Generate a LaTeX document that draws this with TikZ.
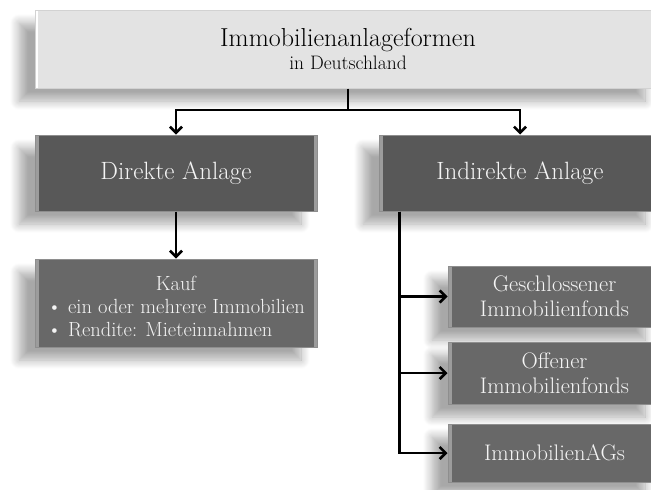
\documentclass[tikz,border=0pt]{standalone}
\usepackage{fontspec}
\usetikzlibrary{arrows.meta,shadows.blur}

\definecolor{paneLight}{HTML}{E3E3E3}
\definecolor{paneLightEdge}{HTML}{D2D2D2}
\definecolor{paneDark}{HTML}{585858}
\definecolor{paneMid}{HTML}{686868}
\definecolor{edgeDark}{HTML}{8E8E8E}
\definecolor{edgeHi}{HTML}{9C9C9C}
\definecolor{paneText}{HTML}{F4F4F4}

\tikzset{
  panel/.style={rectangle, inner sep=0pt, align=center,
    blur shadow={shadow xshift=-16pt, shadow yshift=-13pt,
                 shadow blur radius=9pt, shadow blur steps=12,
                 shadow opacity=34}},
  lightpanel/.style={panel, fill=paneLight, draw=paneLightEdge, line width=1pt,
    text=black,
    path picture={
      \fill[white] (path picture bounding box.north west)
        rectangle ([xshift=3pt]path picture bounding box.south west);}},
  bevelpanel/.style={panel, draw=edgeDark, line width=1pt, text=paneText,
    path picture={
      \fill[edgeHi] (path picture bounding box.north west)
        rectangle ([xshift=3.5pt]path picture bounding box.south west);
      \fill[edgeHi] (path picture bounding box.north east)
        rectangle ([xshift=-3pt]path picture bounding box.south east);}},
  darkpanel/.style={bevelpanel, fill=paneDark},
  midpanel/.style={bevelpanel, fill=paneMid},
  link/.style={line width=2.6pt, draw=black},
  arrowlink/.style={link, -{Straight Barb[length=6pt,width=12pt]}},
}

\begin{document}
\begin{tikzpicture}[x=1pt,y=-1pt]
\useasboundingbox (0,0) rectangle (651,490);
% the panels run off the right edge of the page
\clip (0,0) rectangle (651,490);

% heading panel
\node[lightpanel, minimum width=626pt, minimum height=78pt,
      font=\fontsize{26}{23}\selectfont] (top) at (348,49)
  {Immobilienanlageformen\\
   {\fontsize{19.5}{23}\selectfont in Deutschland}};

% the two kinds of investment
\node[darkpanel, minimum width=282pt, minimum height=76pt,
      font=\fontsize{25}{28}\selectfont] (dir) at (176,173) {Direkte Anlage};
\node[darkpanel, minimum width=282pt, minimum height=76pt,
      font=\fontsize{25}{28}\selectfont] (ind) at (520,173) {Indirekte Anlage};

% direct investment
\node[midpanel, minimum width=282pt, minimum height=88pt,
      font=\fontsize{20.5}{23}\selectfont] (kauf) at (176,303)
  {\raisebox{-6pt}[\height][\depth]{\begin{tabular}{@{}l@{}}
     \multicolumn{1}{@{}c@{}}{Kauf}\\
     \textbullet\ ein oder mehrere Immobilien\\
     \textbullet\ Rendite: Mieteinnahmen
   \end{tabular}}};

% indirect investment vehicles
\node[midpanel, minimum width=213pt, minimum height=61pt,
      font=\fontsize{22.5}{25}\selectfont] (fund1) at (554.5,296.5)
  {Geschlossener\\Immobilienfonds};
\node[midpanel, minimum width=213pt, minimum height=62pt,
      font=\fontsize{22.5}{25}\selectfont] (fund2) at (554.5,373)
  {Offener\\Immobilienfonds};
\node[midpanel, minimum width=213pt, minimum height=58pt,
      font=\fontsize{22.5}{25}\selectfont] (fund3) at (554.5,453)
  {ImmobilienAGs};

% connectors
\coordinate (fork) at (348,110);
\draw[link] (top.south) -- (fork);
\draw[arrowlink] (fork) -| (dir.north);
\draw[arrowlink] (fork) -| (ind.north);
\draw[arrowlink] (dir.south) -- (kauf.north);

\coordinate (trunk) at ([xshift=21pt]ind.south west);
\draw[arrowlink] (trunk) |- (fund1.west);
\draw[arrowlink] (trunk) |- (fund2.west);
\draw[arrowlink] (trunk) |- (fund3.west);
\end{tikzpicture}
\end{document}
